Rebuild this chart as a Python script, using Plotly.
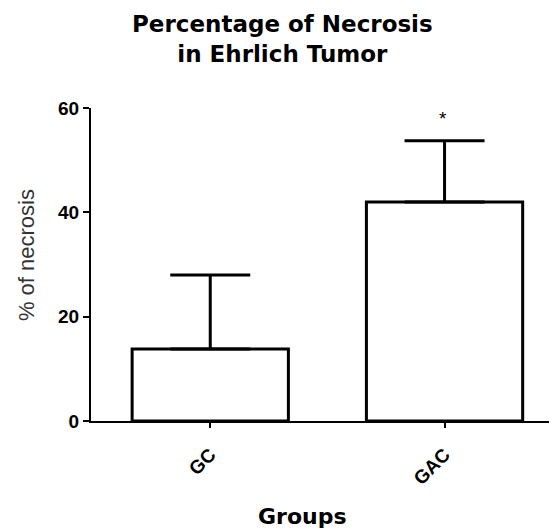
import plotly.graph_objects as go

groups = ["GC", "GAC"]
means = [13.8, 42.0]
sds = [14.2, 11.7]
sig_labels = ["", "*"]
y_ticks = [0, 20, 40, 60]

font_fam = "Liberation Sans, Arial, sans-serif"
heavy_fam = "DejaVu Sans, Liberation Sans, sans-serif"

fig = go.Figure()
fig.add_trace(go.Bar(
    x=list(range(len(groups))),
    y=means,
    width=0.667,
    marker=dict(color="white", line=dict(color="black", width=3)),
    error_y=dict(type="data", symmetric=False, array=sds,
                 arrayminus=[0] * len(sds), color="black",
                 thickness=3, width=40),
    showlegend=False,
))

for i, (m, s, lab) in enumerate(zip(means, sds, sig_labels)):
    if lab:
        fig.add_annotation(x=i, y=m + s, text=lab, showarrow=False,
                           yshift=22, xshift=-2,
                           font=dict(size=19, color="black", family=font_fam))

fig.add_annotation(xref="paper", yref="paper", x=0.412, y=1.0,
                   yshift=69, text="<b>Percentage of Necrosis<br>in Ehrlich Tumor</b>",
                   showarrow=False, font=dict(size=23, color="black", family=heavy_fam),
                   xanchor="center", yanchor="middle")
fig.add_annotation(xref="paper", yref="paper", x=0.453, y=0,
                   yshift=-95, text="<b>Groups</b>", showarrow=False,
                   font=dict(size=22, color="black", family=heavy_fam),
                   xanchor="center", yanchor="middle")
fig.add_annotation(xref="paper", yref="paper", x=0, xshift=-65, y=0.530,
                   text="% of necrosis", textangle=-90, showarrow=False,
                   font=dict(size=22, color="#333333", family=font_fam),
                   xanchor="center", yanchor="middle")

fig.update_layout(
    width=549, height=521,
    margin=dict(l=83, r=0, t=100, b=108),
    plot_bgcolor="white", paper_bgcolor="white",
    font=dict(family=font_fam, color="black"),
    xaxis=dict(range=[-0.509, 1.48], tickmode="array", tickvals=list(range(len(groups))),
               ticktext=[f"<b>{g}</b>" for g in groups], tickangle=-45,
               showline=True, linecolor="black", linewidth=2, ticks="outside",
               ticklen=5, tickwidth=1.5, tickcolor="black", showgrid=False, zeroline=False,
               ticklabelstandoff=8,
               tickfont=dict(size=19, color="black")),
    yaxis=dict(range=[0, 60], tickvals=y_ticks, ticktext=[f"<b>{t}</b>" for t in y_ticks],
               showline=True, linecolor="black", linewidth=2, ticks="outside",
               ticklen=6, tickwidth=1.5, tickcolor="black", showgrid=False, zeroline=False,
               tickfont=dict(size=19, color="black")),
)

fig.write_html("out.html")
